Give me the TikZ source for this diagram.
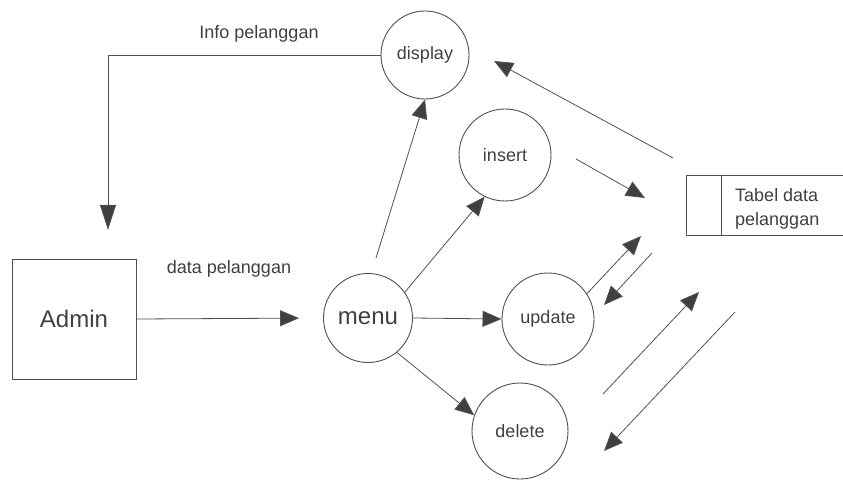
\documentclass[tikz,border=0pt]{standalone}
\usepackage{fontspec}
\setmainfont{Liberation Sans}
\usetikzlibrary{arrows.meta}
\definecolor{ln}{HTML}{505050}
\definecolor{tx}{HTML}{404040}
\tikzset{
  proc/.style={circle, draw=ln, line width=0.9pt, inner sep=0pt, text=tx, font=\fontsize{18}{22}\selectfont},
  ent/.style={rectangle, draw=ln, line width=0.9pt, inner sep=0pt, text=tx, font=\fontsize{24}{28}\selectfont},
  lbl/.style={text=tx, font=\fontsize{18}{22}\selectfont, inner sep=0pt},
  flow/.style={draw=ln, line width=0.8pt, -{Triangle[length=19pt,width=16pt,fill=tx]}},
  bigflow/.style={draw=ln, line width=0.8pt, -{Triangle[length=25pt,width=16pt,fill=tx]}},
  plain/.style={draw=ln, line width=0.8pt}
}
\begin{document}
\begin{tikzpicture}[x=1pt,y=-1pt]
\useasboundingbox (0,0) rectangle (843,481);
% processes
\node[proc, minimum size=88pt] (display) at (425,55) {display};
\node[proc, minimum size=92pt] (insert) at (505,155) {insert};
\node[proc, minimum size=89pt, font=\fontsize{24}{28}\selectfont] (menu) at (368,318) {menu};
\node[proc, minimum size=92pt] (update) at (548,319) {update};
\node[proc, minimum size=96pt] (delete) at (520,431) {delete};
% entity
\node[ent, minimum width=124pt, minimum height=120pt] (admin) at (74,319) {Admin};
% data store (open on the right)
\node[minimum width=156pt, minimum height=59pt, inner sep=0pt] (tbl) at (765,205.5) {};
\draw[plain] (tbl.north east) -- (tbl.north west) -- (tbl.south west) -- (tbl.south east);
\draw[plain] ([xshift=35pt]tbl.north west) -- ([xshift=35pt]tbl.south west);
\node[lbl, anchor=west, align=left, font=\fontsize{18}{24}\selectfont] (tbltext) at (735,209) {Tabel data\\pelanggan};
% labels
\node[lbl] (infolbl) at (259,34) {Info pelanggan};
\node[lbl] (datalbl) at (229,269) {data pelanggan};
% coordinates for free ends
\coordinate (infotip) at (108,230);
\coordinate (md) at (376,258);
\coordinate (a1s) at (673,158);
\coordinate (a1e) at (494,61);
\coordinate (a2s) at (576,159);
\coordinate (a2e) at (645,198);
\coordinate (a3e) at (641,236);
\coordinate (a4s) at (652,253);
\coordinate (a4e) at (604,305);
\coordinate (a5s) at (603,394);
\coordinate (a5e) at (699,292);
\coordinate (a6s) at (735,312);
\coordinate (a6e) at (604,451);
% connectors
\draw[bigflow] (display.west) -| (infotip);
\draw[flow] (md) -- (display.south);
\draw[flow] (menu.35) -- (insert.244);
\draw[flow] (menu.east) -- (update.west);
\draw[flow] (menu.-50) -- (delete.161);
\draw[flow, shorten >=24pt] (admin.east) -- (menu.west);
\draw[flow] (a1s) -- (a1e);
\draw[flow] (a2s) -- (a2e);
\draw[flow] (update.33) -- (a3e);
\draw[flow] (a4s) -- (a4e);
\draw[flow] (a5s) -- (a5e);
\draw[flow] (a6s) -- (a6e);
\end{tikzpicture}
\end{document}
